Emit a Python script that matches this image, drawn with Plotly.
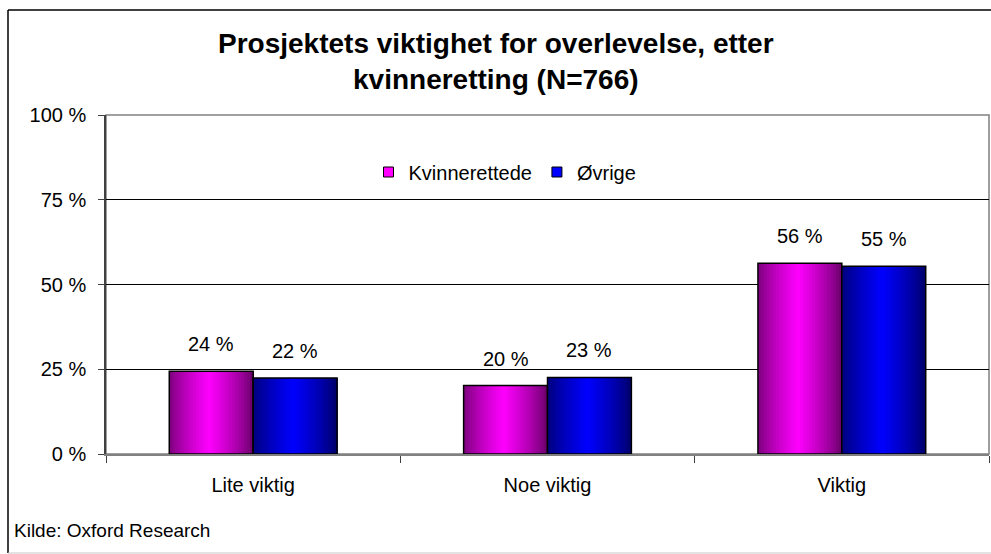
import plotly.graph_objects as go

# Data
categories = ["Lite viktig", "Noe viktig", "Viktig"]
series_names = ["Kvinnerettede", "Øvrige"]
kvinnerettede = [24.4, 20.2, 56.3]
ovrige = [22.4, 22.6, 55.4]
y_ticks = [0, 25, 50, 75, 100]
y_tick_labels = ["0 %", "25 %", "50 %", "75 %", "100 %"]

series_values = [kvinnerettede, ovrige]
# (dark edge, bright centre) colours for the horizontal bar gradients
series_colors = [((110, 0, 110), (255, 0, 255)), ((0, 0, 110), (0, 0, 255))]
legend_colors = ["#FF00FF", "#0000FF"]

W, H = 991, 554
ML, MR, MT, MB = 106, 2, 115, 100
PW, PH = W - ML - MR, H - MT - MB


def px_x(px):
    return (px - ML) / PW


def px_y(py):
    return (H - MB - py) / PH


FONT = "Liberation Sans, Arial, sans-serif"
bar_w = 0.285
n_strips = 28

fig = go.Figure()

for s, (vals, (dark, bright)) in enumerate(zip(series_values, series_colors)):
    base = -bar_w + s * bar_w
    sw = bar_w / n_strips
    for i in range(n_strips):
        t = (i + 0.5) / n_strips
        f = max(0.0, 1 - abs(2 * t - 0.95)) ** 0.8
        c = tuple(int(round(d + (b - d) * f)) for d, b in zip(dark, bright))
        # each strip reaches to the bar's right edge; later strips paint over it
        fig.add_trace(go.Bar(
            x=categories, y=vals, offset=base + i * sw, width=bar_w - i * sw,
            marker=dict(color="rgb(%d,%d,%d)" % c, line=dict(width=0)),
            showlegend=False, hoverinfo="skip",
        ))
    # outline
    fig.add_trace(go.Bar(
        x=categories, y=vals, offset=base, width=bar_w,
        marker=dict(color="rgba(0,0,0,0)", line=dict(color="black", width=1.5)),
        showlegend=False, name=series_names[s],
    ))
    # value labels
    for ci, v in enumerate(vals):
        fig.add_annotation(
            x=ci + base + bar_w / 2, y=v, xref="x", yref="y",
            text=f"{round(v)} %", showarrow=False, yanchor="middle", yshift=27,
            font=dict(family=FONT, size=20, color="black"),
        )

# legend entries
for name, col in zip(series_names, legend_colors):
    fig.add_trace(go.Scatter(
        x=[None], y=[None], mode="markers", name=name,
        marker=dict(symbol="square", size=10, color=col, line=dict(color="black", width=1)),
    ))

# plot-area frame (top/right gray)
fig.add_shape(type="rect", xref="paper", yref="paper", x0=0, x1=1, y0=0, y1=1,
              line=dict(color="#808080", width=1.5), layer="below")
# outer chart border
fig.add_shape(type="line", xref="paper", yref="paper", x0=px_x(8), x1=px_x(8),
              y0=px_y(10), y1=px_y(553), line=dict(color="black", width=1.5))
fig.add_shape(type="line", xref="paper", yref="paper", x0=px_x(8), x1=px_x(995),
              y0=px_y(10), y1=px_y(10), line=dict(color="black", width=1.5))
fig.add_shape(type="line", xref="paper", yref="paper", x0=px_x(8), x1=px_x(995),
              y0=px_y(553), y1=px_y(553), line=dict(color="#c8c8c8", width=1))

# title
fig.add_annotation(
    xref="paper", yref="paper", x=px_x(496), y=px_y(62), xanchor="center", yanchor="middle",
    text="<b>Prosjektets viktighet for overlevelse, etter<br>kvinneretting (N=766)</b>",
    showarrow=False, font=dict(family=FONT, size=28, color="black"),
)
# source note
fig.add_annotation(
    xref="paper", yref="paper", x=px_x(12), y=px_y(530), xanchor="left", yanchor="middle",
    text="Kilde: Oxford Research", showarrow=False,
    font=dict(family=FONT, size=19, color="black"),
)

fig.update_layout(
    width=W, height=H,
    margin=dict(l=ML, r=MR, t=MT, b=MB, pad=0),
    paper_bgcolor="white", plot_bgcolor="white",
    barmode="overlay",
    font=dict(family=FONT, size=20, color="black"),
    showlegend=True,
    legend=dict(orientation="h", x=px_x(505), y=px_y(172), xanchor="center", yanchor="middle",
                bgcolor="rgba(0,0,0,0)", font=dict(family=FONT, size=20, color="black"),
                itemwidth=30, traceorder="normal"),
    xaxis=dict(
        type="category", range=[-0.5, 2.5], showgrid=False,
        showline=True, linecolor="#808080", linewidth=1.5,
        ticks="outside", tickson="boundaries", ticklen=7, tickcolor="#404040", tickwidth=1,
        ticklabelstandoff=12, tickfont=dict(family=FONT, size=20), fixedrange=True,
    ),
    yaxis=dict(
        range=[0, 100], tickvals=y_ticks, ticktext=y_tick_labels,
        showgrid=True, gridcolor="black", gridwidth=1, zeroline=False,
        showline=True, linecolor="#404040", linewidth=1.5,
        ticks="outside", ticklen=6, tickcolor="#404040", tickwidth=1,
        ticklabelstandoff=8, tickfont=dict(family=FONT, size=20), fixedrange=True,
    ),
)

fig.write_html("out.html")
